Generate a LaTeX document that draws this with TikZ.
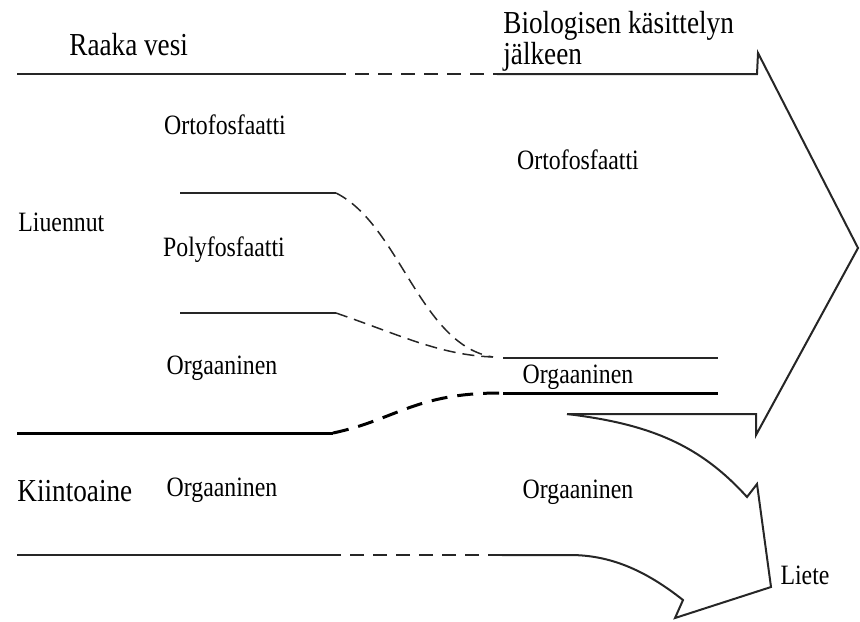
\documentclass[tikz,border=0pt]{standalone}
\usepackage{fontspec}
\setmainfont[FakeStretch=0.85]{Liberation Serif}
\begin{document}
\begin{tikzpicture}[x=0.5pt,y=-0.5pt,
  lbl/.style={inner sep=0pt,font=\fontsize{14}{16}\selectfont},
  biglbl/.style={inner sep=0pt,font=\fontsize{16}{14}\selectfont},
  flow/.style={line width=1pt,black!85},
  thin/.style={line width=0.75pt,black!85},
  thick/.style={line width=1.5pt,black},
  dashA/.style={dash pattern=on 7pt off 4.5pt},
  dashB/.style={dash pattern=on 6pt off 3.5pt},
  dashC/.style={dash pattern=on 8pt off 5pt}]
\useasboundingbox (0,0) rectangle (860,621);

% top stream: raw water to treated water, ending in the large arrow
\coordinate (t0) at (17,74);
\coordinate (t1) at (332,74);
\coordinate (t2) at (497,74);
\coordinate (ah1) at (757,74);
\coordinate (ah2) at (758,53);
\coordinate (tip) at (858,248);
\coordinate (ah3) at (756,435);
\coordinate (ah4) at (756,414);
\coordinate (s0) at (567,414);
\draw[flow] (t0) -- (t1);
\draw[flow,dashA] (t1) -- (t2);
\draw[flow,line join=miter] (t2) -- (ah1) -- (ah2) -- (tip) -- (ah3) -- (ah4) -- (s0);

% sludge arrow
\coordinate (n1) at (747,497);
\coordinate (n2) at (757,484);
\coordinate (n3) at (771,587);
\coordinate (n4) at (675,618);
\coordinate (n5) at (683,600);
\coordinate (b3) at (570,555);
\coordinate (b2) at (502,555);
\coordinate (b1) at (332,555);
\coordinate (b0) at (17,555);
\draw[flow,line join=miter] (s0) .. controls (650,424) and (700,445) .. (n1)
  -- (n2) -- (n3) -- (n4) -- (n5) .. controls (645,570) and (610,555) .. (b3) -- (b2);
\draw[flow,dashA] (b2) -- (b1);
\draw[flow] (b1) -- (b0);

% dissolved phosphorus fractions
\coordinate (o0) at (180,193);
\coordinate (o1) at (336,193);
\coordinate (p0) at (180,313);
\coordinate (p1) at (336,313);
\coordinate (m) at (493,357);
\coordinate (m1) at (503,358);
\coordinate (m2) at (718,358);
\draw[thin] (o0) -- (o1);
\draw[thin] (p0) -- (p1);
\draw[thin,dashB] (o1) .. controls (400,225) and (420,345) .. (m);
\draw[thin,dashB] (p1) .. controls (400,335) and (440,355) .. (m);
\draw[thin] (m1) -- (m2);

% boundary between dissolved and solid
\coordinate (g0) at (17,433);
\coordinate (g1) at (333,433);
\coordinate (g2) at (500,393);
\coordinate (g3) at (503,393);
\coordinate (g4) at (718,393);
\draw[thick] (g0) -- (g1);
\draw[thick,dashC] (g1) .. controls (395,420) and (415,393) .. (g2);
\draw[thick] (g3) -- (g4);

% labels
\node[biglbl,anchor=west] (raw) at (69,45) {Raaka vesi};
\node[biglbl,anchor=west,align=left] (bio) at (503,41) {Biologisen käsittelyn\\jälkeen};
\node[lbl] (orto1) at (225,125) {Ortofosfaatti};
\node[lbl] (orto2) at (578,160) {Ortofosfaatti};
\node[lbl,anchor=west] (liu) at (18,222) {Liuennut};
\node[lbl] (poly) at (224,250) {Polyfosfaatti};
\node[lbl] (org1) at (222,368) {Orgaaninen};
\node[lbl] (org2) at (578,377) {Orgaaninen};
\node[biglbl,anchor=west] (kiin) at (17,491) {Kiintoaine};
\node[lbl] (org3) at (222,490) {Orgaaninen};
\node[lbl] (org4) at (578,492) {Orgaaninen};
\node[lbl] (liete) at (805,575) {Liete};
\end{tikzpicture}
\end{document}
